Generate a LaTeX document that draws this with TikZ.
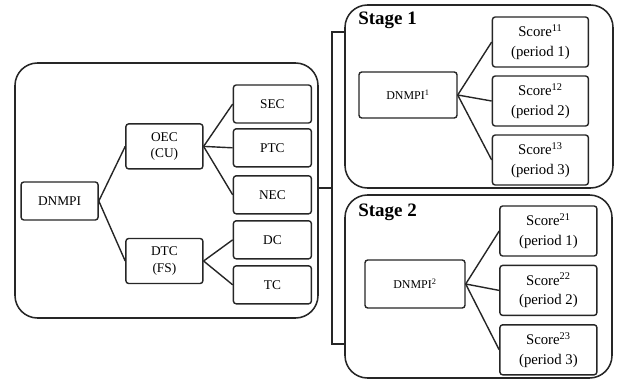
\documentclass[tikz,border=0pt]{standalone}
\usepackage{fontspec}
\setmainfont{Liberation Serif}
\usepackage{tikz}
\usetikzlibrary{positioning}

\begin{document}
\begin{tikzpicture}[
  frame/.style={draw=black!85, line width=1.1pt, rounded corners=16pt},
  box/.style={rectangle, draw=black!85, line width=1pt, fill=white, rounded corners=2pt, align=center, inner sep=1pt},
  small/.style={box, minimum width=1.95cm, minimum height=0.95cm, font=\fontsize{9.5}{11}\selectfont},
  mid/.style={box, minimum width=1.925cm, minimum height=1.125cm, font=\fontsize{9.5}{11.5}\selectfont},
  score/.style={box, minimum width=2.4cm, minimum height=1.25cm, font=\fontsize{10.5}{14}\selectfont},
  root/.style={box, minimum width=2.45cm, minimum height=1.15cm, font=\fontsize{8.5}{10}\selectfont},
  link/.style={draw=black!85, line width=1pt},
  stagelabel/.style={anchor=west, font=\fontsize{13.5}{15}\selectfont\bfseries, inner sep=0pt}
]
  \useasboundingbox (0,0) rectangle (15.55,-9.5);

  % Frames
  \draw[frame] (0.375,-1.575) rectangle (7.95,-7.95);
  \draw[frame] (8.625,-0.125) rectangle (15.325,-4.7);
  \draw[frame] (8.625,-4.875) rectangle (15.3,-9.45);

  % Nodes
  \node[small, minimum width=1.925cm] (dnmpi) at (1.49,-5.025) {DNMPI};
  \node[mid] (oec) at (4.11,-3.66) {OEC\\(CU)};
  \node[mid] (dtc) at (4.11,-6.525) {DTC\\(FS)};
  \node[small] (sec) at (6.81,-2.6) {SEC};
  \node[small, below=0.11cm of sec] (ptc) {PTC};
  \node[small, below=0.19cm of ptc] (nec) {NEC};
  \node[small, below=0.14cm of nec] (dc) {DC};
  \node[small, below=0.14cm of dc] (tc) {TC};

  \node[stagelabel] (st1) at (8.95,-0.5) {Stage 1};
  \node[root] (d1) at (10.2,-2.375) {DNMPI\textsuperscript{1}};
  \node[score] (s11) at (13.51,-1.05) {Score\textsuperscript{11}\\(period 1)};
  \node[score, below=0.19cm of s11] (s12) {Score\textsuperscript{12}\\(period 2)};
  \node[score, below=0.19cm of s12] (s13) {Score\textsuperscript{13}\\(period 3)};

  \node[stagelabel] (st2) at (8.95,-5.3) {Stage 2};
  \node[root, minimum width=2.5cm, minimum height=1.2cm] (d2) at (10.375,-7.1) {DNMPI\textsuperscript{2}};
  \node[score, minimum width=2.425cm] (s21) at (13.71,-5.775) {Score\textsuperscript{21}\\(period 1)};
  \node[score, minimum width=2.425cm, below=0.2cm of s21] (s22) {Score\textsuperscript{22}\\(period 2)};
  \node[score, minimum width=2.425cm, below=0.2cm of s22] (s23) {Score\textsuperscript{23}\\(period 3)};

  % Bracket
  \coordinate (btop) at (8.3,-0.8);
  \coordinate (bbot) at (8.3,-8.6);
  \coordinate (bmid) at (8.3,-4.7);
  \draw[link] (8.625,-0.8) -- (btop) -- (bbot) -- (8.625,-8.6);
  \draw[link] (7.95,-4.7) -- (bmid);

  % Paths
  \foreach \t in {oec,dtc} \draw[link] (dnmpi.east) -- (\t.west);
  \foreach \t in {sec,ptc,nec} \draw[link] (oec.east) -- (\t.west);
  \foreach \t in {dc,tc} \draw[link] (dtc.east) -- (\t.west);
  \foreach \t in {s11,s12,s13} \draw[link] (d1.east) -- (\t.west);
  \foreach \t in {s21,s22,s23} \draw[link] (d2.east) -- (\t.west);
\end{tikzpicture}
\end{document}
